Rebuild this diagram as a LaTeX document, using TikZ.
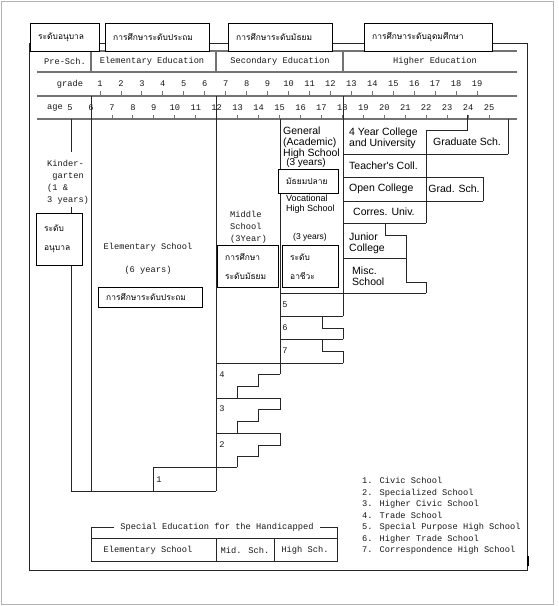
\documentclass[tikz,border=0pt]{standalone}
\usepackage{fontspec}
\newfontfamily\thaifont[Script=Thai]{Loma}
\newfontfamily\monofont{Liberation Mono}
\newfontfamily\arialfont{Liberation Sans}

\begin{document}
\begin{tikzpicture}[x=1pt, y=-1pt,
    numtext/.style={font=\monofont\fontsize{8.7}{12}\selectfont, text=black!90, inner sep=0pt},
    schooltext/.style={font=\arialfont\fontsize{10.5}{10.8}\selectfont, inner sep=0pt, align=left},
    thaibox/.style={draw, fill=white, font=\thaifont\fontsize{8.4}{19}\selectfont,
        inner xsep=8pt, inner ysep=0pt, align=left, anchor=north west},
    hline/.style={draw=black!55, line width=1.2pt},
    wall/.style={draw=black!85, line width=0.8pt}]

    \useasboundingbox (0,0) rectangle (559,606);
    \draw[black!30] (1.5,1.5) rectangle (553,604.5);
    \draw[wall] (29,43) rectangle (527,570);
    \draw[line width=2.4pt] (528,556) -- (528,566);

    % header table
    \foreach \y in {51,72,96,119}
        \draw[hline] (37,\y) -- (517,\y);
    \foreach \x in {91,216,343}
        \draw[hline] (\x,51) -- (\x,72);

    \node[numtext] (presch) at (65,61) {Pre-Sch.};
    \node[numtext] (elemed) at (152,61) {Elementary Education};
    \node[numtext] (seced) at (280,61) {Secondary Education};
    \node[numtext] (highed) at (435,61) {Higher Education};

    \node[numtext] (gradelbl) at (70,84) {grade};
    \foreach \g in {1,...,19} {
        \node[numtext] (g\g) at ({100+(\g-1)*20.95},84) {\g};
        \draw[hline, line width=0.9pt] ({100+(\g-1)*20.95},91) -- ++(0,5);
    }
    \node[numtext] (agelbl) at (55,108) {age};
    \foreach \a in {5,...,25}
        \node[numtext] (a\a) at ({91+(\a-6)*20.95},108) {\a};
    \foreach \a in {7,...,25}
        \draw[hline, line width=0.9pt] ({91+(\a-6)*20.95},115) -- ++(0,4);

    % top labels
    \node[thaibox, text width=53pt, minimum height=28pt] (kgtop) at (30,23) {ระดับอนุบาล};
    \node[thaibox, text width=88pt, minimum height=28pt] (elemtop) at (105,23) {การศึกษาระดับประถม};
    \node[thaibox, text width=88pt, minimum height=28pt] (sectop) at (228,23) {การศึกษาระดับมัธยม};
    \node[thaibox, text width=112pt, minimum height=28pt] (hightop) at (364,23) {การศึกษาระดับอุดมศึกษา};

    % pre-school and elementary
    \draw[wall] (71,119) -- (71,152);
    \draw[wall] (71,207) -- (71,213);
    \draw[wall] (71,265) -- (71,491) -- (216,491);
    \draw[wall] (91,96) -- (91,491);
    \draw[wall] (216,96) -- (216,491);
    \node[numtext, align=left, anchor=north west] (kgtext) at (47,160)
        {Kinder-\\\ garten\\(1 \&\\3 years)};
    \node[thaibox, text width=30pt, minimum height=52pt] (kgbox) at (36,213) {ระดับ\\อนุบาล};
    \node[numtext] (elemschool) at (148,247) {Elementary School};
    \node[numtext] (elemyears) at (148,270) {(6 years)};
    \node[thaibox, text width=88pt, minimum height=20pt] (elembox) at (98,287) {การศึกษาระดับประถม};

    % secondary
    \draw[wall] (280,119) -- (280,374);
    \draw[wall] (343,96) -- (343,316);
    \node[numtext, align=left, anchor=north west] (midtext) at (230,211)
        {Middle\\School\\(3Year)};
    \node[thaibox, text width=45pt, minimum height=42pt] (midbox) at (217,245) {การศึกษา\\ระดับมัธยม};
    \node[schooltext, anchor=north west] (gentext) at (283,127)
        {General\\(Academic)\\High School};
    \node[schooltext, font=\arialfont\fontsize{10}{10}\selectfont] (genyears) at (306,163) {(3 years)};
    \node[thaibox, text width=44pt, minimum height=24pt] (upperbox) at (278,169) {มัธยมปลาย};
    \node[schooltext, anchor=north west, font=\arialfont\fontsize{9}{9.5}\selectfont] (voctext) at (286,195)
        {Vocational\\High School};
    \node[schooltext, font=\arialfont\fontsize{8.5}{9}\selectfont] (vocyears) at (310,237) {(3 years)};
    \node[thaibox, text width=40pt, minimum height=42pt] (vocbox) at (282,245) {ระดับ\\อาชีวะ};

    % schools 5 to 7
    \draw[wall] (280,293) -- (426,293);
    \draw[wall] (280,316) -- (343,316);
    \draw[wall] (322,316) -- (322,328) -- (343,328) -- (343,339);
    \draw[wall] (280,339) -- (343,339);
    \draw[wall] (322,339) -- (322,351) -- (343,351) -- (343,363);
    \draw[wall] (216,363) -- (343,363);
    \node[numtext] (n5) at (285,305) {5};
    \node[numtext] (n6) at (285,328) {6};
    \node[numtext] (n7) at (285,351) {7};

    % schools 1 to 4
    \draw[wall] (280,374) -- (258,374) -- (258,386) -- (237,386) -- (237,398);
    \draw[wall] (216,398) -- (280,398) -- (280,409) -- (258,409) -- (258,421) -- (237,421) -- (237,433);
    \draw[wall] (216,433) -- (280,433) -- (280,445) -- (258,445) -- (258,456) -- (237,456) -- (237,467);
    \draw[wall] (153,491) -- (153,467) -- (237,467);
    \node[numtext] (n4) at (222,375) {4};
    \node[numtext] (n3) at (222,409) {3};
    \node[numtext] (n2) at (222,445) {2};
    \node[numtext] (n1) at (159,480) {1};

    % higher education
    \draw[wall] (467,115) -- (467,130) -- (426,130) -- (426,154);
    \draw[wall] (508,119) -- (508,154);
    \draw[wall] (343,154) -- (508,154);
    \draw[wall] (426,154) -- (426,177);
    \draw[wall] (343,177) -- (483,177) -- (483,201);
    \draw[wall] (343,201) -- (483,201);
    \draw[wall] (426,177) -- (426,223);
    \draw[wall] (343,223) -- (426,223);
    \draw[wall] (385,223) -- (385,235) -- (406,235) -- (406,258);
    \draw[wall] (343,258) -- (406,258) -- (406,282) -- (426,282) -- (426,293);
    \node[schooltext, anchor=north west] (univtext) at (349,128) {4 Year College\\and University};
    \node[schooltext] (gradschool) at (467,142) {Graduate Sch.};
    \node[schooltext, anchor=west] (teachers) at (349,166) {Teacher's Coll.};
    \node[schooltext, anchor=west] (opencoll) at (349,189) {Open College};
    \node[schooltext] (gradsch) at (454,189) {Grad. Sch.};
    \node[schooltext, anchor=west] (corres) at (353,212) {Corres. Univ.};
    \node[schooltext, anchor=north west] (junior) at (349,233) {Junior\\College};
    \node[schooltext, anchor=north west] (misc) at (352,267) {Misc.\\School};

    % special education
    \draw[wall] (91,527) rectangle (337,561);
    \draw[wall] (91,538) -- (337,538);
    \draw[wall] (216,538) -- (216,561);
    \draw[wall] (274,538) -- (274,561);
    \node[numtext, fill=white, inner xsep=6pt] (specialed) at (217,527) {Special Education for the Handicapped};
    \node[numtext] (spelem) at (148,550) {Elementary School};
    \node[numtext] (spmid) at (245,550) {Mid. Sch.};
    \node[numtext] (sphigh) at (305,550) {High Sch.};

    % legend
    \node[numtext, align=left, anchor=north west, font=\monofont\fontsize{8.7}{11.5}\selectfont] (legend) at (362,477)
        {1. Civic School\\2. Specialized School\\3. Higher Civic School\\4. Trade School\\
         5. Special Purpose High School\\6. Higher Trade School\\7. Correspondence High School};
\end{tikzpicture}
\end{document}
